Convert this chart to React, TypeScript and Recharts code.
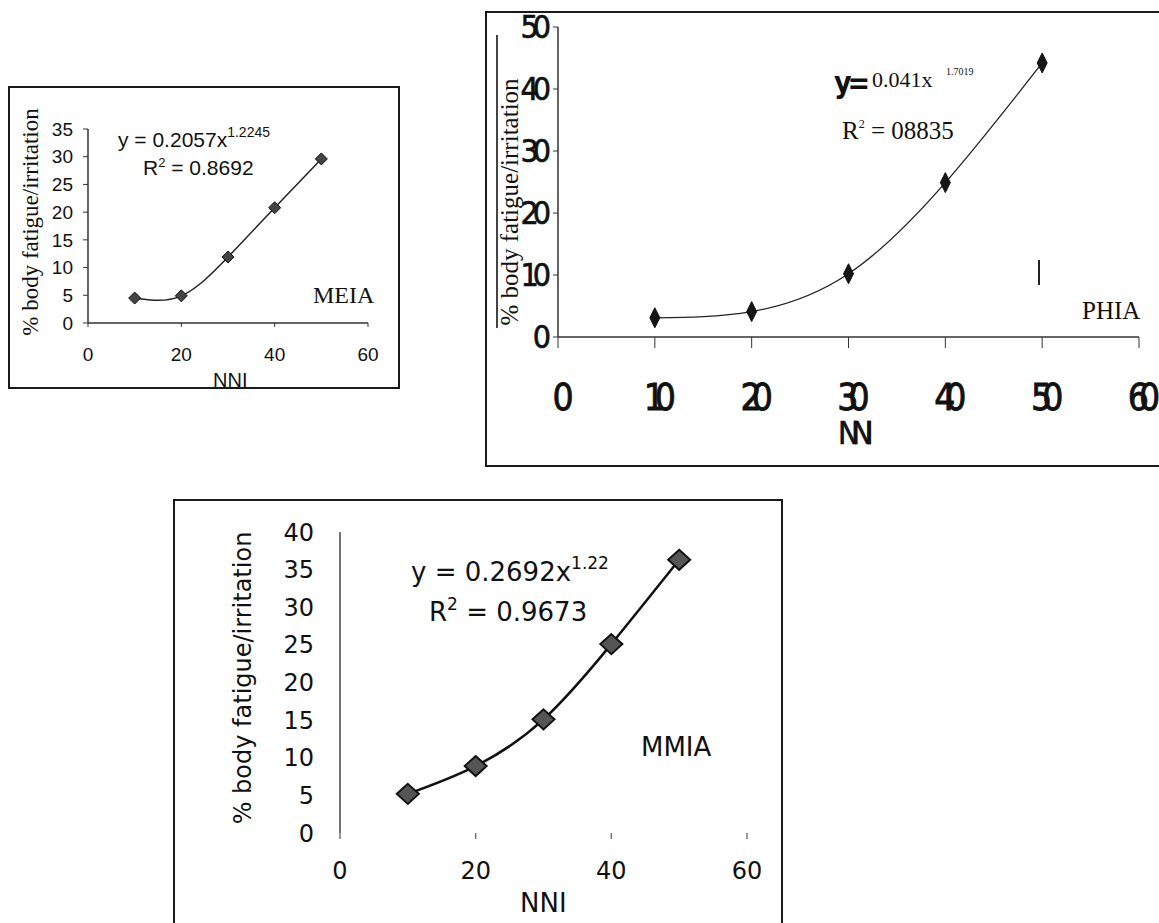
import React from "react";
import { LineChart, Line, XAxis, YAxis } from "recharts";

// NNI levels shared by all three panels
const nni = [10, 20, 30, 40, 50];

// % body fatigue/irritation per panel
const meiaValues = [4.5, 4.9, 11.9, 20.8, 29.6];
const phiaValues = [3.1, 4.1, 10.2, 24.9, 44.2];
const mmiaValues = [5.2, 8.9, 15.1, 25.1, 36.3];

const meiaXTicks = [0, 20, 40, 60];
const meiaYTicks = [0, 5, 10, 15, 20, 25, 30, 35];
const phiaXTicks = [0, 10, 20, 30, 40, 50, 60];
const phiaYTicks = [0, 10, 20, 30, 40, 50];
const mmiaXTicks = [0, 20, 40, 60];
const mmiaYTicks = [0, 5, 10, 15, 20, 25, 30, 35, 40];

const W = 1159;
const H = 923;

const sans = "'Liberation Sans', Arial, sans-serif";
const serif = "'Liberation Serif', 'Times New Roman', serif";
const narrow = "'Liberation Sans Narrow', 'DejaVu Sans Condensed', sans-serif";
const dejavu = "'DejaVu Sans', Verdana, sans-serif";

const toRows = (values: number[]) =>
  nni.map((x, i) => ({ nni: x, value: values[i] }));

const meiaRows = toRows(meiaValues);
const phiaRows = toRows(phiaValues);
const mmiaRows = toRows(mmiaValues);

type DiamondProps = {
  cx?: number;
  cy?: number;
  rx: number;
  ry: number;
  fill: string;
  stroke: string;
  strokeWidth?: number;
};

const Diamond = ({ cx, cy, rx, ry, fill, stroke, strokeWidth = 1 }: DiamondProps) => {
  if (cx == null || cy == null) return null;
  const pts = `${cx},${cy - ry} ${cx + rx},${cy} ${cx},${cy + ry} ${cx - rx},${cy}`;
  return <polygon points={pts} fill={fill} stroke={stroke} strokeWidth={strokeWidth} />;
};

// absolutely placed text, positioned by the vertical centre of its glyphs
const Txt = ({
  x,
  cy,
  size,
  family,
  children,
  style,
}: {
  x: number;
  cy: number;
  size: number;
  family: string;
  children: React.ReactNode;
  style?: React.CSSProperties;
}) => (
  <div
    style={{
      position: "absolute",
      left: x,
      top: cy - size * 0.49,
      fontSize: size,
      fontFamily: family,
      lineHeight: 1,
      whiteSpace: "nowrap",
      color: "#111",
      ...style,
    }}
  >
    {children}
  </div>
);

const VLabel = ({ cx, cy, size, family, text }: { cx: number; cy: number; size: number; family: string; text: string }) => (
  <div
    style={{
      position: "absolute",
      left: cx,
      top: cy,
      fontSize: size,
      fontFamily: family,
      lineHeight: 1,
      whiteSpace: "nowrap",
      color: "#111",
      transform: "translate(-50%, -50%) rotate(-90deg)",
    }}
  >
    {text}
  </div>
);

const Sup = ({ size, top, children }: { size: number; top: number; children: React.ReactNode }) => (
  <span style={{ fontSize: size, position: "relative", top }}>{children}</span>
);

const Frame = ({ left, top, width, height }: { left: number; top: number; width: number; height: number }) => (
  <div
    style={{
      position: "absolute",
      left,
      top,
      width,
      height,
      boxSizing: "border-box",
      border: "2px solid #1a1a1a",
    }}
  />
);

const layer: React.CSSProperties = { position: "absolute", left: 0, top: 0 };

// the PHIA panel uses a squeezed, heavy face with overlapping digits
const phiaXTick = (p: any) => (
  <text
    x={p.x}
    y={p.y}
    textAnchor="middle"
    dominantBaseline="central"
    fontSize={37}
    fontFamily={narrow}
    letterSpacing={-10}
    stroke="#111"
    strokeWidth={0.8}
    fill="#111"
  >
    {p.payload.value}
  </text>
);

const phiaYTick = (p: any) => (
  <text
    x={p.x}
    y={p.y}
    textAnchor="end"
    dominantBaseline="central"
    fontSize={32}
    fontFamily={narrow}
    letterSpacing={-6}
    stroke="#111"
    strokeWidth={0.6}
    fill="#111"
  >
    {p.payload.value}
  </text>
);

export default function App() {
  return (
    <div
      style={{
        position: "absolute",
        left: 0,
        top: 0,
        width: W,
        height: H,
        overflow: "hidden",
        background: "#fff",
      }}
    >
      <Frame left={8} top={86} width={392} height={303} />
      <Frame left={485} top={11} width={700} height={456} />
      <Frame left={173} top={499} width={610} height={500} />

      {/* MEIA */}
      <div style={layer}>
        <LineChart width={W} height={H} data={meiaRows} margin={{ top: 129, right: 791, bottom: 560, left: 0 }}>
          <XAxis
            dataKey="nni"
            type="number"
            domain={[0, 60]}
            ticks={meiaXTicks}
            height={40}
            tickSize={4}
            tickMargin={21}
            axisLine={{ stroke: "#333", strokeWidth: 1.5 }}
            tickLine={{ stroke: "#333" }}
            tick={{ fill: "#111", fontSize: 19, fontFamily: sans }}
          />
          <YAxis
            type="number"
            domain={[0, 35]}
            ticks={meiaYTicks}
            width={88}
            tickSize={5}
            tickMargin={10}
            axisLine={{ stroke: "#333", strokeWidth: 1.5 }}
            tickLine={{ stroke: "#333" }}
            tick={{ fill: "#111", fontSize: 19, fontFamily: sans }}
          />
          <Line
            type="natural"
            dataKey="value"
            stroke="#222"
            strokeWidth={1.5}
            isAnimationActive={false}
            dot={(p: any) => (
              <Diamond key={p.index} cx={p.cx} cy={p.cy} rx={6} ry={6} fill="#444" stroke="#111" />
            )}
          />
        </LineChart>
      </div>

      {/* PHIA */}
      <div style={layer}>
        <LineChart width={W} height={H} data={phiaRows} margin={{ top: 27, right: 20, bottom: 526, left: 0 }}>
          <XAxis
            dataKey="nni"
            type="number"
            domain={[0, 60]}
            ticks={phiaXTicks}
            height={60}
            tickSize={11}
            tickMargin={49}
            axisLine={{ stroke: "#333", strokeWidth: 1.5 }}
            tickLine={{ stroke: "#333" }}
            tick={phiaXTick}
          />
          <YAxis
            type="number"
            domain={[0, 50]}
            ticks={phiaYTicks}
            width={558}
            tickSize={5}
            tickMargin={8}
            axisLine={{ stroke: "#333", strokeWidth: 1.5 }}
            tickLine={{ stroke: "#333" }}
            tick={phiaYTick}
          />
          <Line
            type="natural"
            dataKey="value"
            stroke="#222"
            strokeWidth={1.3}
            isAnimationActive={false}
            dot={(p: any) => (
              <Diamond key={p.index} cx={p.cx} cy={p.cy} rx={5} ry={10} fill="#151515" stroke="#111" />
            )}
          />
        </LineChart>
      </div>

      {/* MMIA */}
      <div style={layer}>
        <LineChart width={W} height={H} data={mmiaRows} margin={{ top: 532, right: 412, bottom: 30, left: 0 }}>
          <XAxis
            dataKey="nni"
            type="number"
            domain={[0, 60]}
            ticks={mmiaXTicks}
            height={60}
            tickSize={6}
            tickMargin={23}
            axisLine={false}
            tickLine={{ stroke: "#777", strokeWidth: 1.5 }}
            tick={{ fill: "#111", fontSize: 24, fontFamily: dejavu }}
          />
          <YAxis
            type="number"
            domain={[0, 40]}
            ticks={mmiaYTicks}
            width={340}
            tickSize={0}
            tickMargin={26}
            axisLine={{ stroke: "#444", strokeWidth: 1.5 }}
            tickLine={false}
            tick={{ fill: "#111", fontSize: 24, fontFamily: dejavu }}
          />
          <Line
            type="natural"
            dataKey="value"
            stroke="#111"
            strokeWidth={2.5}
            isAnimationActive={false}
            dot={(p: any) => (
              <Diamond key={p.index} cx={p.cx} cy={p.cy} rx={11} ry={10} fill="#555" stroke="#111" strokeWidth={2} />
            )}
          />
        </LineChart>
      </div>

      {/* MEIA annotations */}
      <VLabel cx={30} cy={222} size={23} family={serif} text="% body fatigue/irritation" />
      <Txt x={118} cy={139} size={21} family={sans}>
        y = 0.2057x<Sup size={14} top={-10}>1.2245</Sup>
      </Txt>
      <Txt x={143} cy={167} size={21} family={sans}>
        R<Sup size={13} top={-8}>2</Sup> = 0.8692
      </Txt>
      <Txt x={313} cy={295} size={24} family={serif}>
        MEIA
      </Txt>
      <Txt x={213} cy={380} size={20} family={sans}>
        NNI
      </Txt>

      {/* PHIA annotations */}
      <div style={{ position: "absolute", left: 496, top: 35, width: 1.5, height: 293, background: "#444" }} />
      <VLabel cx={509} cy={202} size={25} family={serif} text="% body fatigue/irritation" />
      <Txt x={834} cy={83} size={30} family={narrow} style={{ fontWeight: 700, letterSpacing: -4 }}>
        y=
      </Txt>
      <Txt x={872} cy={80} size={22} family={serif}>
        0.041x
      </Txt>
      <Txt x={946} cy={72} size={10} family={serif}>
        1.7019
      </Txt>
      <Txt x={842} cy={130} size={25} family={serif}>
        R<Sup size={12} top={-11}>2</Sup> = 08835
      </Txt>
      <Txt x={1082} cy={310} size={25} family={serif}>
        PHIA
      </Txt>
      <div style={{ position: "absolute", left: 1038, top: 260, width: 2, height: 25, background: "#222" }} />
      <Txt x={838} cy={433} size={32} family={narrow} style={{ letterSpacing: -8, WebkitTextStroke: "0.6px #111" }}>
        NNI
      </Txt>

      {/* MMIA annotations */}
      <VLabel cx={243} cy={678} size={24} family={dejavu} text="% body fatigue/irritation" />
      <Txt x={411} cy={572} size={26} family={dejavu}>
        y = 0.2692x<Sup size={17} top={-12}>1.22</Sup>
      </Txt>
      <Txt x={429} cy={612} size={26} family={dejavu}>
        R<Sup size={17} top={-11}>2</Sup> = 0.9673
      </Txt>
      <Txt x={641} cy={747} size={26} family={dejavu}>
        MMIA
      </Txt>
      <Txt x={520} cy={903} size={26} family={dejavu}>
        NNI
      </Txt>
    </div>
  );
}
